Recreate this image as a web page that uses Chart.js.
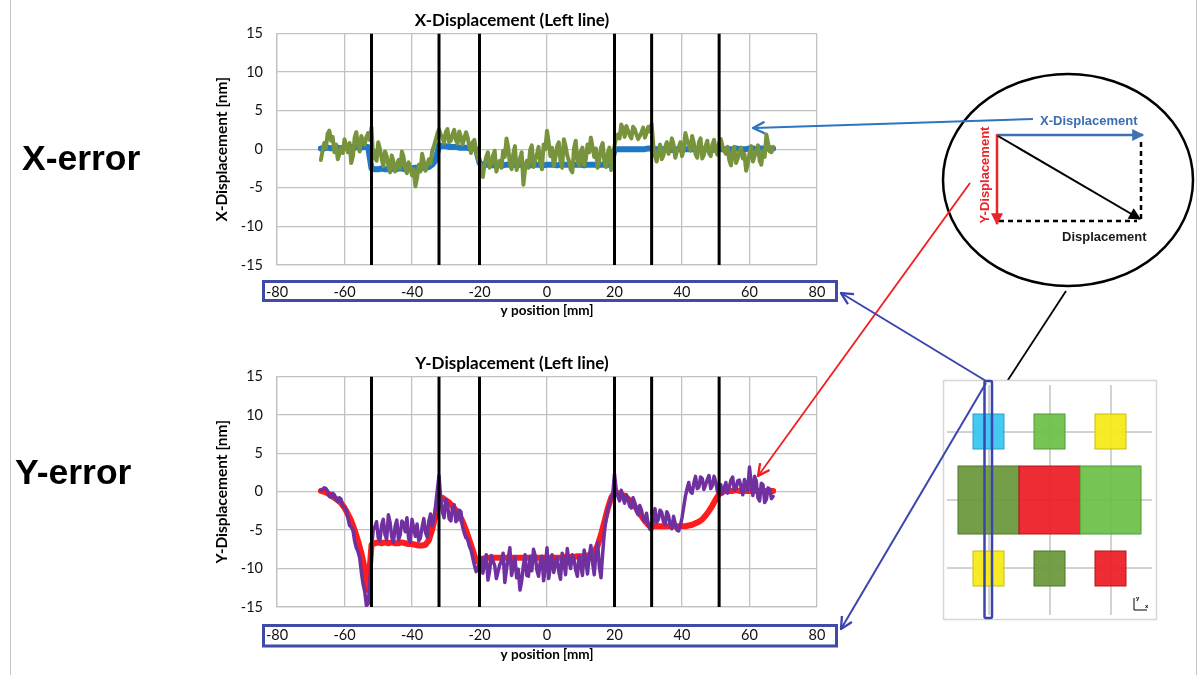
<!DOCTYPE html>
<html>
<head>
<meta charset="utf-8">
<script src="https://cdn.jsdelivr.net/npm/chart.js@4.4.1/dist/chart.umd.min.js"></script>
<style>
  html, body { margin: 0; padding: 0; background: #fff; }
  #page { position: relative; width: 1201px; height: 675px; overflow: hidden; background: #fff; }
  canvas.plot { position: absolute; }
  #overlay { position: absolute; left: 0; top: 0; }
  #overlay text { font-family: "Liberation Sans", Arial, sans-serif; font-weight: bold; }
</style>
</head>
<body>
<div id="page">
  <canvas id="xChart" class="plot" width="633" height="319" style="left:207px;top:0px;width:633px;height:319px"></canvas>
  <canvas id="yChart" class="plot" width="633" height="320" style="left:207px;top:343px;width:633px;height:320px"></canvas>

  <svg id="overlay" width="1201" height="675" viewBox="0 0 1201 675">
    <defs>
      <marker id="tipBlue" viewBox="0 0 10 10" refX="9" refY="5" markerUnits="userSpaceOnUse" markerWidth="14" markerHeight="12" orient="auto">
        <path d="M0,0 L10,5 L0,10 z" fill="#3e70b2"/>
      </marker>
      <marker id="tipRed" viewBox="0 0 10 10" refX="9" refY="5" markerUnits="userSpaceOnUse" markerWidth="14" markerHeight="12" orient="auto">
        <path d="M0,0 L10,5 L0,10 z" fill="#e8262a"/>
      </marker>
      <marker id="tipBlack" viewBox="0 0 10 10" refX="9" refY="5" markerUnits="userSpaceOnUse" markerWidth="14" markerHeight="12" orient="auto">
        <path d="M0,0 L10,5 L0,10 z" fill="#000"/>
      </marker>
      <marker id="openBlue" viewBox="0 0 12 12" refX="11" refY="6" markerUnits="userSpaceOnUse" markerWidth="14" markerHeight="14" orient="auto">
        <path d="M1,1 L11,6 L1,11" fill="none" stroke="#2e75c0" stroke-width="2"/>
      </marker>
      <marker id="openRed" viewBox="0 0 12 12" refX="11" refY="6" markerUnits="userSpaceOnUse" markerWidth="14" markerHeight="14" orient="auto">
        <path d="M1,1 L11,6 L1,11" fill="none" stroke="#f01e1e" stroke-width="2"/>
      </marker>
      <marker id="openNavy" viewBox="0 0 12 12" refX="11" refY="6" markerUnits="userSpaceOnUse" markerWidth="14" markerHeight="14" orient="auto">
        <path d="M1,1 L11,6 L1,11" fill="none" stroke="#3b45ad" stroke-width="2"/>
      </marker>
      <marker id="openBlack" viewBox="0 0 12 12" refX="11" refY="6" markerUnits="userSpaceOnUse" markerWidth="14" markerHeight="14" orient="auto">
        <path d="M1,1 L11,6 L1,11" fill="none" stroke="#000" stroke-width="2"/>
      </marker>
    </defs>

    <!-- page frame -->
    <line x1="10.5" y1="0" x2="10.5" y2="675" stroke="#c4c4c4" stroke-width="1"/>
    <line x1="1196.5" y1="0" x2="1196.5" y2="675" stroke="#c4c4c4" stroke-width="1"/>

    <!-- row labels -->
    <text x="22" y="170" font-size="35.5" fill="#000">X-error</text>
    <text x="15" y="484" font-size="35.5" fill="#000">Y-error</text>

    <!-- displacement vector sketch -->
    <ellipse cx="1068" cy="180" rx="125" ry="106" fill="none" stroke="#000" stroke-width="2.5"/>
    <line x1="1141" y1="142" x2="1141" y2="219" stroke="#000" stroke-width="2.5" stroke-dasharray="5,4"/>
    <line x1="999" y1="221" x2="1137" y2="221" stroke="#000" stroke-width="2.5" stroke-dasharray="5,4"/>
    <line x1="997" y1="135" x2="1143" y2="135" stroke="#3e70b2" stroke-width="2.5" marker-end="url(#tipBlue)"/>
    <line x1="997" y1="134" x2="997" y2="224" stroke="#e8262a" stroke-width="2.5" marker-end="url(#tipRed)"/>
    <line x1="998" y1="136" x2="1140" y2="219" stroke="#000" stroke-width="2" marker-end="url(#tipBlack)"/>
    <text x="1040" y="125" font-size="13" fill="#3d6eb0">X-Displacement</text>
    <text transform="translate(989,175) rotate(-90)" text-anchor="middle" font-size="13" fill="#e8262a">Y-Displacement</text>
    <text x="1062" y="241" font-size="13" fill="#1a1a1a">Displacement</text>

    <!-- pointers into the plots -->
    <line x1="1033" y1="119" x2="753" y2="128" stroke="#2e75c0" stroke-width="2" marker-end="url(#openBlue)"/>
    <line x1="970" y1="183" x2="758" y2="476" stroke="#f01e1e" stroke-width="1.8" marker-end="url(#openRed)"/>
    <line x1="1066" y1="291" x2="991" y2="406" stroke="#000" stroke-width="1.8" marker-end="url(#openBlack)"/>

    <!-- layout map -->
    <rect x="943.5" y="380.5" width="213" height="239" fill="#fff" stroke="#d6d6d6" stroke-width="1.5"/>
    <g stroke="#a6a6a6" stroke-width="1">
      <line x1="989" y1="385" x2="989" y2="615"/>
      <line x1="1050" y1="385" x2="1050" y2="615"/>
      <line x1="1111" y1="385" x2="1111" y2="615"/>
      <line x1="947" y1="432" x2="1152" y2="432"/>
      <line x1="947" y1="500" x2="1152" y2="500"/>
      <line x1="947" y1="568" x2="1152" y2="568"/>
    </g>
    <g fill-opacity="0.93" stroke-width="1">
      <rect x="973" y="414" width="31" height="35" fill="#37c5f2" stroke="#2a9fc6"/>
      <rect x="1034" y="414" width="31" height="35" fill="#6cbf47" stroke="#4f9b34"/>
      <rect x="1095" y="414" width="31" height="35" fill="#f5ea14" stroke="#c9bd10"/>
      <rect x="958" y="466" width="61" height="68" fill="#6b973a" stroke="#4e7628"/>
      <rect x="1019" y="466" width="61" height="68" fill="#ed1c24" stroke="#b5151b"/>
      <rect x="1080" y="466" width="61" height="68" fill="#6cbf47" stroke="#4f9b34"/>
      <rect x="973" y="551" width="31" height="35" fill="#f5ea14" stroke="#c9bd10"/>
      <rect x="1034" y="551" width="31" height="35" fill="#6b973a" stroke="#4e7628"/>
      <rect x="1095" y="551" width="31" height="35" fill="#ed1c24" stroke="#b5151b"/>
    </g>
    <g stroke="#000" stroke-width="1" fill="none">
      <line x1="1134" y1="598" x2="1134" y2="610"/>
      <line x1="1134" y1="610" x2="1147" y2="610"/>
    </g>
    <text x="1136" y="600" font-size="6" font-weight="normal" fill="#000">y</text>
    <text x="1145" y="608" font-size="6" font-weight="normal" fill="#000">x</text>
    <rect x="984.5" y="381" width="7.5" height="237" rx="1.5" fill="none" stroke="#3b45ad" stroke-width="2.5"/>
    <line x1="986" y1="381" x2="841" y2="293" stroke="#3b45ad" stroke-width="2" marker-end="url(#openNavy)"/>
    <line x1="986" y1="383" x2="841" y2="629" stroke="#3b45ad" stroke-width="2" marker-end="url(#openNavy)"/>
  </svg>
</div>

<script>
// Sample positions along the line, in mm (whole millimetres)
const positionsMm = [
  -67,-66,-65,-64,-63,-62,-61,-60,-59,-58,
  -57,-56,-55,-54,-53,-52,-51,-50,-49,-48,
  -47,-46,-45,-44,-43,-42,-41,-40,-39,-38,
  -37,-36,-35,-34,-33,-32,-31,-30,-29,-28,
  -27,-26,-25,-24,-23,-22,-21,-20,-19,-18,
  -17,-16,-15,-14,-13,-12,-11,-10,-9,-8,
  -7,-6,-5,-4,-3,-2,-1,0,1,2,
  3,4,5,6,7,8,9,10,11,12,
  13,14,15,16,17,18,19,20,21,22,
  23,24,25,26,27,28,29,30,31,32,
  33,34,35,36,37,38,39,40,41,42,
  43,44,45,46,47,48,49,50,51,52,
  53,54,55,56,57,58,59,60,61,62,
  63,64,65,66,67
];
// Extra measurement positions between the whole millimetres
const halfPositionsMm = [
  -66.5,-65.5,-64.5,-63.5,-62.5,-61.5,-60.5,-59.5,-58.5,-57.5,
  -56.5,-55.5,-54.5,-53.5,-52.5,-51.5,-50.5,-49.5,-48.5,-47.5,
  -46.5,-45.5,-44.5,-43.5,-42.5,-41.5,-40.5,-39.5,-38.5,-37.5,
  -36.5,-35.5,-34.5,-33.5,-32.5,-31.5,-30.5,-29.5,-28.5,-27.5,
  -26.5,-25.5,-24.5,-23.5,-22.5,-21.5,-20.5,-19.5,-18.5,-17.5,
  -16.5,-15.5,-14.5,-13.5,-12.5,-11.5,-10.5,-9.5,-8.5,-7.5,
  -6.5,-5.5,-4.5,-3.5,-2.5,-1.5,-0.5,0.5,1.5,2.5,
  3.5,4.5,5.5,6.5,7.5,8.5,9.5,10.5,11.5,12.5,
  13.5,14.5,15.5,16.5,17.5,18.5,19.5,20.5,21.5,22.5,
  23.5,24.5,25.5,26.5,27.5,28.5,29.5,30.5,31.5,32.5,
  33.5,34.5,35.5,36.5,37.5,38.5,39.5,40.5,41.5,42.5,
  43.5,44.5,45.5,46.5,47.5,48.5,49.5,50.5,51.5,52.5,
  53.5,54.5,55.5,56.5,57.5,58.5,59.5,60.5,61.5,62.5,
  63.5,64.5,65.5,66.5
];

// X-displacement: simulated (blue) and measured (green), nm
const xSimulatedNm = [
  0.1,0.1,0.2,0.1,0.2,0.2,0.1,0.2,0.2,0.3,
  0.2,0.3,0.2,0.3,0.3,-2.5,-2.6,-2.6,-2.5,-2.6,
  -2.6,-2.5,-2.6,-2.5,-2.5,-2.6,-2.5,-2.5,-2.4,-2.5,
  -2.4,-2.4,-2.3,-2.0,-1.4,0.5,0.4,0.4,0.3,0.3,
  0.3,0.2,0.2,0.2,0.1,0.1,0.0,-1.8,-2.0,-2.0,
  -2.0,-2.1,-2.0,-2.0,-2.1,-2.0,-2.0,-2.0,-2.1,-2.0,
  -2.0,-2.0,-2.1,-2.0,-2.0,-2.0,-2.1,-2.0,-2.0,-2.0,
  -2.1,-2.0,-2.0,-2.0,-2.1,-2.0,-2.0,-2.0,-2.1,-2.0,
  -2.0,-2.0,-2.1,-2.0,-2.0,-2.0,-2.0,-0.1,0.0,0.0,
  0.0,0.0,0.0,0.0,0.0,0.0,0.0,0.1,0.1,0.0,
  0.0,0.0,0.0,-0.1,-0.1,0.0,0.0,-0.1,0.0,0.0,
  0.0,0.0,-0.1,0.0,0.0,0.0,-0.1,0.0,0.0,0.0,
  0.0,0.0,0.0,0.1,0.0,0.0,0.0,0.1,0.1,0.0,
  0.1,0.1,0.1,0.1,0.1
];
const xMeasuredNm = [
  -1.4,0.8,2.0,1.1,-0.4,-1.3,0.2,1.3,-0.4,-1.8,
  1.5,0.4,1.7,0.6,2.1,2.8,-0.2,0.9,-1.2,-0.3,
  -2.1,-0.8,-2.9,-1.4,-0.3,-2.6,-1.7,-3.4,-4.8,-2.0,
  -0.6,-2.8,-1.3,-0.2,1.2,2.6,1.6,2.2,0.9,1.9,
  1.2,2.3,0.6,2.2,0.3,0.9,-0.4,-1.8,-3.6,-1.0,
  -2.4,-0.8,-2.9,-1.5,-0.2,1.4,-1.9,-0.6,-2.7,-1.2,
  -4.6,-1.5,-0.1,-2.3,-0.7,-1.8,0.6,2.4,-0.9,-2.2,
  0.4,-1.6,1.3,-0.8,-2.6,0.1,-1.4,-0.3,-2.1,0.6,
  1.5,-1.0,-2.4,0.2,-1.7,-0.5,-2.7,0.4,1.9,3.2,
  1.6,2.4,1.4,2.6,1.3,2.2,1.5,2.9,3.3,-0.9,
  -0.2,-1.3,0.3,-0.6,1.4,-1.1,0.2,-0.9,2.1,0.5,
  1.7,-0.6,0.9,-1.2,0.4,-0.5,0.6,-0.2,0.8,0.4,
  -0.6,-1.4,-0.3,-1.8,-0.4,-1.2,-2.8,-0.5,-1.6,-0.3,
  -1.5,-0.2,1.9,-0.3,0.3
];
const xMeasuredHalfNm = [
  -0.2,0.2,2.4,1.6,0.6,-0.6,-0.5,0.4,0.8,-0.9,
  2.2,-0.3,1.0,1.6,1.2,-1.2,-1.5,0.0,-2.2,-0.9,
  -3.0,-1.6,-2.1,-2.5,-1.0,-3.1,-2.3,-2.6,-3.7,-2.9,
  -1.6,-2.0,-1.9,0.4,2.0,1.9,0.8,2.6,1.1,2.5,
  0.7,1.6,1.4,1.5,-0.5,1.2,-1.2,-2.3,-1.9,-0.4,
  -1.9,-0.2,-2.0,-2.4,-1.0,0.2,-2.6,0.4,-1.8,-0.4,
  -2.6,-2.4,0.5,-1.4,0.3,-2.6,0.0,0.9,0.2,-1.1,
  0.9,-2.4,0.4,-1.5,-3.0,1.1,-2.1,0.2,-1.3,-0.4,
  0.3,0.1,-1.4,0.8,-2.3,0.2,-2.0,1.5,1.4,2.6,
  3.0,1.8,2.9,1.9,1.7,2.8,2.1,2.3,0.5,-1.6,
  0.6,-0.8,0.9,0.1,0.6,-0.3,0.9,0.0,1.2,-0.2,
  0.8,-1.1,1.4,-0.7,1.1,-0.9,1.2,-0.7,1.3,-0.2,
  0.3,-2.1,0.3,-1.2,0.2,-0.6,-1.9,0.4,-0.9,0.5,
  -2.0,-1.0,0.8,-0.4
];

// Y-displacement: simulated (red) and measured (purple), nm
const ySimulatedNm = [
  0.1,0.0,-0.2,-0.5,-0.8,-1.1,-1.5,-2.1,-2.9,-3.8,
  -5.0,-6.4,-8.0,-10.0,-12.8,-6.9,-6.7,-6.6,-6.7,-6.6,
  -6.7,-6.6,-6.7,-6.7,-6.6,-6.7,-6.8,-6.8,-6.9,-7.0,
  -7.0,-6.9,-6.3,-4.9,-3.0,-1.0,-0.8,-1.1,-1.4,-1.9,
  -2.4,-3.0,-3.9,-5.0,-6.3,-7.6,-9.0,-9.2,-8.7,-8.6,
  -8.6,-8.6,-8.6,-8.6,-8.6,-8.6,-8.6,-8.6,-8.6,-8.6,
  -8.6,-8.6,-8.6,-8.6,-8.6,-8.6,-8.6,-8.6,-8.6,-8.6,
  -8.6,-8.6,-8.5,-8.5,-8.5,-8.5,-8.4,-8.4,-8.4,-8.3,
  -8.2,-7.8,-7.0,-5.6,-3.9,-2.2,-0.8,-0.1,-0.2,-0.3,
  -0.6,-0.9,-1.3,-1.9,-2.5,-3.2,-3.8,-4.3,-4.5,-4.5,
  -4.5,-4.5,-4.5,-4.5,-4.5,-4.5,-4.5,-4.5,-4.5,-4.4,
  -4.3,-4.1,-3.9,-3.6,-3.1,-2.5,-1.8,-1.0,-0.3,0.0,
  0.1,0.1,0.1,0.2,0.1,0.1,0.1,0.1,0.1,0.1,
  0.1,0.1,0.1,0.1,0.1
];
const yMeasuredNm = [
  0.2,0.5,0.1,-0.7,-0.4,-1.3,-1.0,-2.0,-3.4,-4.6,
  -6.4,-7.8,-10.5,-13.0,-14.6,-7.6,-4.6,-6.0,-4.3,-5.6,
  -3.0,-5.9,-4.5,-6.3,-3.8,-5.2,-6.1,-3.6,-5.8,-6.4,
  -4.6,-5.3,-3.8,-4.4,-1.8,2.1,-2.6,-1.0,-3.5,-2.1,
  -3.9,-2.4,-4.6,-6.0,-7.1,-8.6,-10.4,-9.4,-10.6,-8.2,
  -10.3,-9.0,-11.3,-9.5,-8.0,-10.1,-7.3,-9.8,-11.2,-12.8,
  -9.6,-10.9,-8.4,-7.5,-10.2,-9.1,-11.6,-7.3,-9.8,-10.5,
  -8.6,-11.4,-9.2,-7.4,-10.0,-8.8,-11.0,-9.4,-7.6,-10.7,
  -7.0,-10.8,-6.6,-11.2,-5.3,-2.4,-0.8,2.3,-0.6,0.2,
  -1.5,-0.9,-2.1,-1.4,-3.0,-2.4,-3.8,-4.4,-5.0,-2.2,
  -3.6,-2.7,-4.3,-3.1,-4.8,-4.2,-5.1,-3.4,-0.6,1.2,
  -0.2,2.0,0.6,1.7,0.9,2.1,0.8,1.3,0.2,-0.3,
  1.2,0.6,1.9,0.4,1.5,-0.4,1.0,3.2,-0.5,1.4,
  -1.2,0.9,-1.0,0.3,-0.6
];
const yMeasuredHalfNm = [
  0.3,0.4,-0.6,-0.2,-1.0,-0.8,-1.9,-2.4,-4.4,-5.0,
  -7.3,-8.6,-12.0,-14.8,-12.0,-5.0,-3.9,-6.4,-3.6,-6.2,
  -4.0,-6.6,-3.7,-5.6,-4.1,-3.4,-6.6,-4.7,-4.2,-6.0,
  -3.5,-5.9,-2.9,-3.6,0.2,-0.8,-3.4,-1.6,-3.8,-1.7,
  -3.6,-2.6,-5.4,-6.2,-7.6,-9.6,-9.8,-8.6,-9.3,-11.5,
  -8.3,-9.6,-10.4,-9.0,-11.8,-8.7,-10.9,-8.5,-10.1,-11.6,
  -8.2,-11.0,-10.3,-8.3,-11.0,-8.4,-9.9,-11.3,-8.2,-9.4,
  -10.4,-8.0,-10.8,-9.0,-8.2,-10.2,-8.4,-10.9,-9.0,-8.4,
  -9.2,-8.0,-9.8,-8.0,-3.6,-1.6,-0.2,0.3,-1.2,-0.8,
  -0.4,-1.9,-0.8,-2.6,-1.8,-3.6,-2.8,-4.9,-3.8,-4.0,
  -2.4,-3.9,-2.6,-4.4,-3.2,-5.0,-4.4,-2.0,0.4,0.0,
  1.1,0.4,1.9,0.3,1.6,0.4,2.0,0.0,0.9,0.5,
  -0.2,1.5,0.2,1.4,0.6,1.6,0.2,1.0,2.0,-0.8,
  1.1,-1.4,0.5,-0.9
];

// Section boundaries marked with vertical black lines, mm
const boundariesMm = [-52, -32, -20, 20, 31, 51];

// Axis ticks
const positionTicksMm = [-80, -60, -40, -20, 0, 20, 40, 60, 80];
const displacementTicksNm = [-15, -10, -5, 0, 5, 10, 15];

const FONT = 'Lato, "Open Sans", sans-serif';

const pairs = (xs, ys) => xs.map((x, i) => ({ x, y: ys[i] }));

// Whole-millimetre and in-between readings merged in position order
function mergeReadings(xs, ys, halfXs, halfYs) {
  const out = [];
  xs.forEach((x, i) => {
    out.push({ x, y: ys[i] });
    if (i < halfXs.length) out.push({ x: halfXs[i], y: halfYs[i] });
  });
  return out;
}

// Blue frame drawn around the position tick labels
const tickFramePlugin = {
  id: 'tickFrame',
  afterDraw(chart, args, opts) {
    const { ctx, chartArea: a } = chart;
    ctx.save();
    ctx.strokeStyle = opts.color;
    ctx.lineWidth = opts.width;
    ctx.strokeRect(a.left + opts.left, a.bottom + opts.top,
                   (a.right + opts.right) - (a.left + opts.left), opts.bottom - opts.top);
    ctx.restore();
  }
};

function buildChart(canvasId, cfg) {
  const yMin = displacementTicksNm[0];
  const yMax = displacementTicksNm[displacementTicksNm.length - 1];
  const boundarySets = boundariesMm.map(b => ({
    data: [{ x: b, y: yMin }, { x: b, y: yMax }],
    borderColor: '#000', borderWidth: 3, pointRadius: 0, borderCapStyle: 'butt'
  }));
  const lineStyle = { pointRadius: 0, tension: 0, borderJoinStyle: 'round', borderCapStyle: 'round', fill: false };

  return new Chart(document.getElementById(canvasId), {
    type: 'line',
    data: {
      datasets: [
        ...boundarySets,
        { ...lineStyle, data: mergeReadings(positionsMm, cfg.measured, halfPositionsMm, cfg.measuredHalf),
          borderColor: cfg.measuredColor, borderWidth: cfg.measuredWidth },
        { ...lineStyle, data: pairs(positionsMm, cfg.simulated), borderColor: cfg.simulatedColor, borderWidth: 6 }
      ]
    },
    options: {
      responsive: false,
      animation: false,
      events: [],
      layout: { padding: { top: 5, left: 0, right: 23, bottom: 0 } },
      plugins: {
        legend: { display: false },
        tooltip: { enabled: false },
        title: {
          display: true, text: cfg.title, color: '#000',
          font: { family: FONT, size: 17, weight: 'bold' },
          padding: { top: 5, bottom: 3 }, fullSize: true
        },
        tickFrame: cfg.frame
      },
      scales: {
        x: {
          type: 'linear', min: positionTicksMm[0], max: positionTicksMm[positionTicksMm.length - 1],
          afterBuildTicks: s => { s.ticks = positionTicksMm.map(v => ({ value: v })); },
          afterFit: s => { s.height = cfg.xAxisHeight; s.paddingLeft = 0; s.paddingRight = 0; },
          grid: { color: '#c2c2c2', lineWidth: 1.3, drawTicks: false },
          border: { display: true, color: '#c2c2c2', width: 1.3 },
          ticks: { color: '#111', font: { family: FONT, size: 14.5 }, padding: cfg.xTickPad, maxRotation: 0 },
          title: {
            display: true, text: 'y position [mm]', color: '#000',
            font: { family: FONT, size: 13.5, weight: 'bold' }, padding: { top: 0, bottom: 0 }
          }
        },
        y: {
          min: yMin, max: yMax,
          afterBuildTicks: s => { s.ticks = displacementTicksNm.map(v => ({ value: v })); },
          afterFit: s => { s.width = 70; },
          grid: { color: '#c2c2c2', lineWidth: 1.3, drawTicks: false },
          border: { display: true, color: '#c2c2c2', width: 1.3 },
          ticks: { color: '#111', font: { family: FONT, size: 14.5 }, padding: 14 },
          title: {
            display: true, text: cfg.yTitle, color: '#000',
            font: { family: FONT, size: 15.5, weight: 'bold' }, padding: { top: 6, bottom: 0 }
          }
        }
      }
    },
    plugins: [tickFramePlugin]
  });
}

buildChart('xChart', {
  title: 'X-Displacement (Left line)',
  yTitle: 'X-Displacement [nm]',
  simulated: xSimulatedNm, measured: xMeasuredNm, measuredHalf: xMeasuredHalfNm,
  simulatedColor: '#1f77c8', measuredColor: '#77933c', measuredWidth: 4,
  xAxisHeight: 54, xTickPad: 19,
  frame: { color: '#3f4ba6', width: 3, left: -13.5, right: 19.5, top: 16.5, bottom: 35.5 }
});

buildChart('yChart', {
  title: 'Y-Displacement (Left line)',
  yTitle: 'Y-Displacement [nm]',
  simulated: ySimulatedNm, measured: yMeasuredNm, measuredHalf: yMeasuredHalfNm,
  simulatedColor: '#ff1c1c', measuredColor: '#7030a0', measuredWidth: 3.5,
  xAxisHeight: 56, xTickPad: 20,
  frame: { color: '#3f4ba6', width: 3, left: -13.5, right: 19.5, top: 18.5, bottom: 39 }
});
</script>
</body>
</html>
